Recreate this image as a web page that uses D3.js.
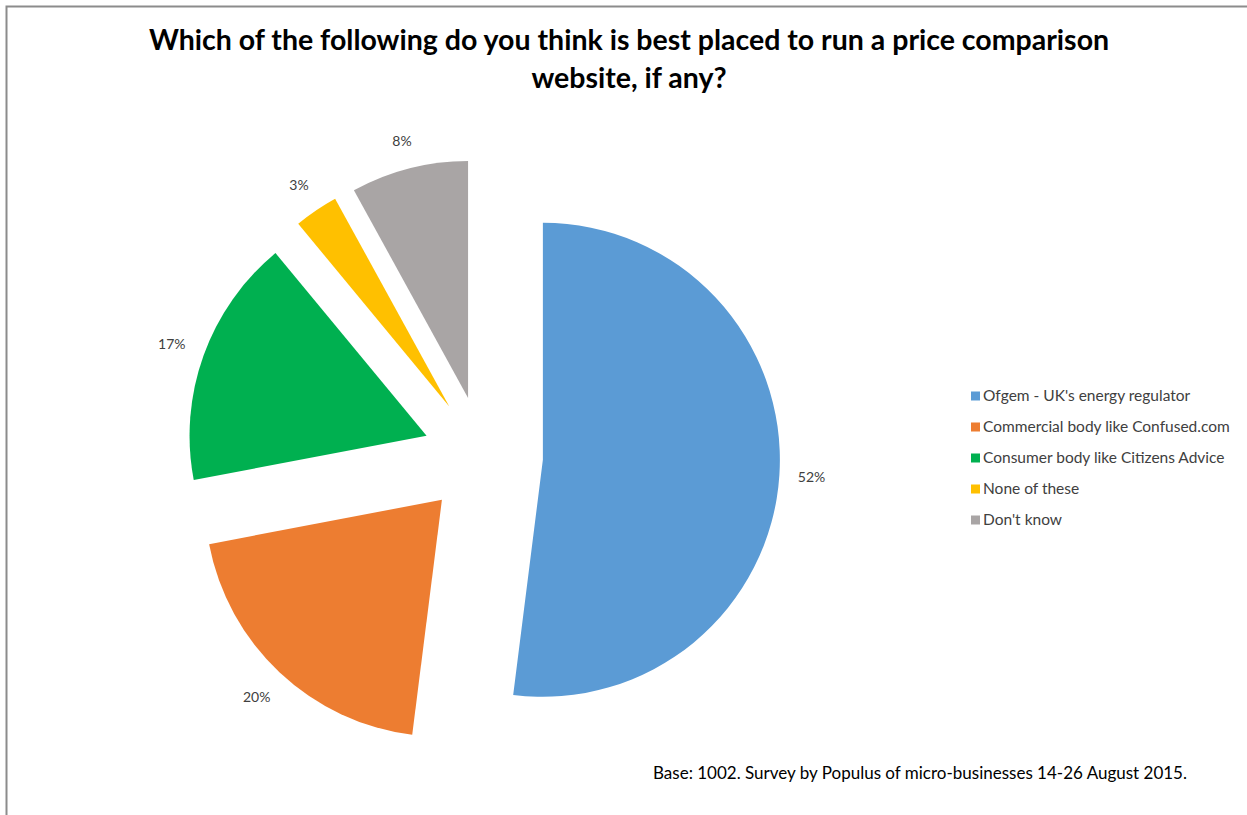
<!DOCTYPE html>
<html>
<head>
<meta charset="utf-8">
<script src="https://cdn.jsdelivr.net/npm/d3@7"></script>
<style>
  html, body { margin: 0; padding: 0; background: #fff; }
  svg { display: block; }
</style>
</head>
<body>
<svg id="chart" width="1247" height="815"></svg>
<script>
// Survey answers and their shares (%)
const categories = [
  "Ofgem - UK's energy regulator",
  "Commercial body like Confused.com",
  "Consumer body like Citizens Advice",
  "None of these",
  "Don't know"
];
const values = [52, 20, 17, 3, 8];
const colors = ["#5B9BD5", "#ED7D31", "#00B050", "#FFC000", "#A9A5A5"];
const titleLines = [
  "Which of the following do you think is best placed to run a price comparison",
  "website, if any?"
];
const footnote = "Base: 1002. Survey by Populus of micro-businesses 14-26 August 2015.";

const svg = d3.select("#chart");
const W = 1247, H = 815;
const FONT = "Lato, 'Open Sans', sans-serif";

// Outer frame (top and left edges visible)
svg.append("rect")
  .attr("x", 6.5).attr("y", 6.5)
  .attr("width", W + 20).attr("height", H + 20)
  .attr("fill", "none").attr("stroke", "#8c8c8c").attr("stroke-width", 2);

// Title
svg.append("g").selectAll("text")
  .data(titleLines).join("text")
  .attr("x", 629)
  .attr("y", (d, i) => 50 + i * 38)
  .attr("text-anchor", "middle")
  .attr("font-family", FONT)
  .attr("font-weight", "bold")
  .attr("font-size", 28.5)
  .attr("fill", "#000")
  .text(d => d);

// Pie with every slice pulled away from the centre
const cx = 483, cy = 456, radius = 237, explode = 60, labelGap = 18;
const pie = d3.pie().sort(null).value(d => d.value);
const arcs = pie(values.map((v, i) => ({ value: v, name: categories[i], color: colors[i] })));
const arc = d3.arc().innerRadius(0).outerRadius(radius);

const g = svg.append("g").attr("transform", `translate(${cx},${cy})`);
const mid = d => (d.startAngle + d.endAngle) / 2;

g.selectAll("path")
  .data(arcs).join("path")
  .attr("d", arc)
  .attr("fill", d => d.data.color)
  .attr("transform", d => {
    const a = mid(d);
    return `translate(${explode * Math.sin(a)},${-explode * Math.cos(a)})`;
  });

// Value labels just outside each slice's outer edge
g.selectAll("text.lbl")
  .data(arcs).join("text")
  .attr("class", "lbl")
  .attr("text-anchor", "middle")
  .attr("dy", "0.35em")
  .attr("font-family", FONT)
  .attr("font-size", 14)
  .attr("fill", "#404040")
  .text(d => d.data.value + "%")
  .each(function (d) {
    const a = mid(d);
    const bb = this.getBBox();
    const s = Math.sin(a), c = Math.cos(a);
    const r = explode + radius + labelGap + (bb.width / 2) * Math.abs(s) + (bb.height / 2) * Math.abs(c);
    d3.select(this).attr("x", r * s).attr("y", -r * c);
  });

// Legend
const legend = svg.append("g").attr("transform", "translate(971,396)");
const rows = legend.selectAll("g")
  .data(categories).join("g")
  .attr("transform", (d, i) => `translate(0,${i * 31})`);
rows.append("rect")
  .attr("x", 0).attr("y", -4.5)
  .attr("width", 9).attr("height", 9)
  .attr("fill", (d, i) => colors[i]);
rows.append("text")
  .attr("x", 12).attr("dy", "0.35em")
  .attr("font-family", FONT)
  .attr("font-size", 15.5)
  .attr("fill", "#404040")
  .text(d => d);

// Footnote
svg.append("text")
  .attr("x", 653).attr("y", 779)
  .attr("font-family", FONT)
  .attr("font-size", 17)
  .attr("fill", "#000")
  .text(footnote);
</script>
</body>
</html>
